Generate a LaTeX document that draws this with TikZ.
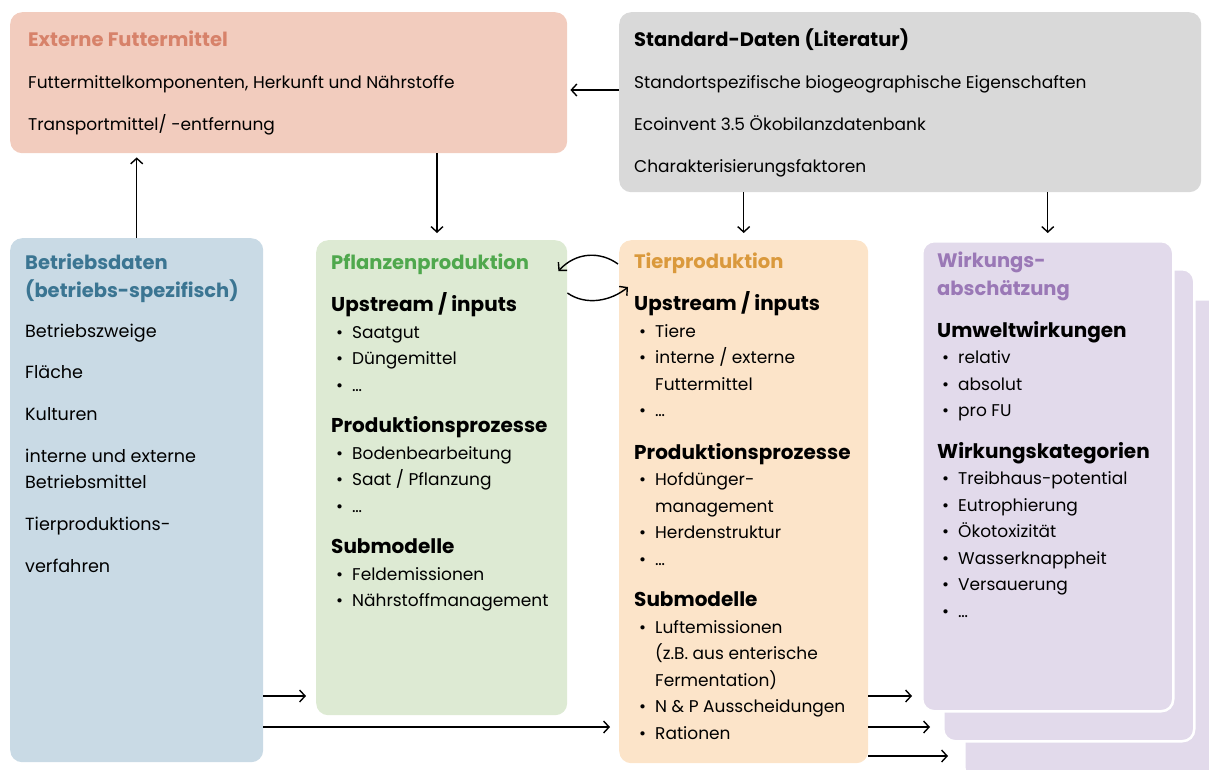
\documentclass[tikz,border=0pt]{standalone}
\usepackage{fontspec}
\setmainfont{Poppins}
\usetikzlibrary{arrows.meta,positioning}
\definecolor{salmonbg}{HTML}{F2CCBE}
\definecolor{salmontxt}{HTML}{D7826A}
\definecolor{greybg}{HTML}{D9D9D9}
\definecolor{bluebg}{HTML}{C9DAE5}
\definecolor{bluetxt}{HTML}{3B7592}
\definecolor{greenbg}{HTML}{DDEAD3}
\definecolor{greentxt}{HTML}{4FA84D}
\definecolor{peachbg}{HTML}{FCE4C9}
\definecolor{peachtxt}{HTML}{DA993C}
\definecolor{lilacbg}{HTML}{E2DAEB}
\definecolor{lilactxt}{HTML}{9A78B6}

% bullet items with hanging indent
\newcommand{\itm}[1]{\makebox[21pt][l]{\hspace{5pt}\textbullet}#1}
\newcommand{\cnt}{\hspace*{21pt}}
\newcommand{\hdr}[1]{{\fontsize{20}{26}\selectfont\bfseries #1}}
\newcommand{\ttl}[2]{{\fontsize{19.5}{26}\selectfont\bfseries\color{#1}#2}}

\begin{document}
\begin{tikzpicture}[x=1pt,y=-1pt,
  box/.style={rounded corners=12pt, inner sep=0pt, anchor=north west},
  card/.style={box, fill=lilacbg, draw=white, line width=2.5pt},
  txt/.style={anchor=base west, align=left, inner sep=0pt},
  arr/.style={-{Straight Barb[length=5.5pt,width=12pt]}, line width=1.4pt, shorten >=4pt}]
\clip (0,0) rectangle (1209,769);

% boxes
\node[box, fill=salmonbg, minimum width=557pt, minimum height=141pt] (extern) at (10,12) {};
\node[box, fill=greybg, minimum width=582pt, minimum height=180pt] (standard) at (619,12) {};
\node[box, fill=bluebg, minimum width=253pt, minimum height=524pt] (betrieb) at (10,238) {};
\node[box, fill=greenbg, minimum width=251pt, minimum height=475pt] (pflanze) at (316,240) {};
\node[box, fill=peachbg, minimum width=249pt, minimum height=523pt] (tier) at (619,240) {};
\node[card, minimum width=262pt, minimum height=480pt] (wirkC) at (963,298) {};
\node[card, minimum width=251pt, minimum height=472pt] (wirkB) at (942,268) {};
\node[card, minimum width=251pt, minimum height=470pt] (wirk) at (921,240) {};

% texts (anchored at the baseline of their last line)
\node[txt, font=\fontsize{17}{42}\selectfont] (externtxt) at (28,130)
  {\ttl{salmontxt}{Externe Futtermittel}\\
   Futtermittelkomponenten, Herkunft und Nährstoffe\\
   Transportmittel/ -entfernung};
\node[txt, font=\fontsize{17}{42}\selectfont] (standardtxt) at (634,172)
  {\ttl{black}{Standard-Daten (Literatur)}\\
   Standortspezifische biogeographische Eigenschaften\\
   Ecoinvent 3.5 Ökobilanzdatenbank\\
   Charakterisierungsfaktoren};
\node[txt, font=\fontsize{17.6}{26}\selectfont] (betriebtxt) at (25,572)
  {\ttl{bluetxt}{Betriebsdaten}\\[2pt]
   \ttl{bluetxt}{(betriebs-spezifisch)}\\[14pt]
   Betriebszweige\\[15pt]
   Fläche\\[16pt]
   Kulturen\\[16pt]
   interne und externe\\
   Betriebsmittel\\[16pt]
   Tierproduktions-\\[16pt]
   verfahren};
\node[txt, font=\fontsize{17}{26.5}\selectfont] (pflanzetxt) at (331,606.5)
  {\ttl{greentxt}{Pflanzenproduktion}\\[16pt]
   \hdr{Upstream / inputs}\\
   \itm{Saatgut}\\
   \itm{Düngemittel}\\
   \itm{\ldots}\\[15pt]
   \hdr{Produktionsprozesse}\\
   \itm{Bodenbearbeitung}\\
   \itm{Saat / Pflanzung}\\
   \itm{\ldots}\\[15pt]
   \hdr{Submodelle}\\
   \itm{Feldemissionen}\\
   \itm{Nährstoffmanagement}};
\node[txt, font=\fontsize{17}{26.5}\selectfont] (tiertxt) at (634,739)
  {\ttl{peachtxt}{Tierproduktion}\\[16pt]
   \hdr{Upstream / inputs}\\
   \itm{Tiere}\\
   \itm{interne / externe}\\
   \cnt Futtermittel\\
   \itm{\ldots}\\[16pt]
   \hdr{Produktionsprozesse}\\
   \itm{Hofdünger-}\\
   \cnt management\\
   \itm{Herdenstruktur}\\
   \itm{\ldots}\\[15pt]
   \hdr{Submodelle}\\
   \itm{Luftemissionen}\\
   \cnt (z.B. aus enterische\\
   \cnt Fermentation)\\
   \itm{N \& P Ausscheidungen}\\
   \itm{Rationen}};
\node[txt, font=\fontsize{17}{26.5}\selectfont] (wirktxt) at (937,617)
  {\ttl{lilactxt}{Wirkungs-}\\[2pt]
   \ttl{lilactxt}{abschätzung}\\[15pt]
   \hdr{Umweltwirkungen}\\
   \itm{relativ}\\
   \itm{absolut}\\
   \itm{pro FU}\\[15pt]
   \hdr{Wirkungskategorien}\\
   \itm{Treibhaus-potential}\\
   \itm{Eutrophierung}\\
   \itm{Ökotoxizität}\\
   \itm{Wasserknappheit}\\
   \itm{Versauerung}\\
   \itm{\ldots}};

% connectors
\draw[arr, shorten >=3pt] (standard.west |- 0,90) -- (extern.east |- 0,90);
\draw[arr] (betrieb.north) -- (extern.south -| betrieb.north);
\draw[arr, shorten >=7pt] (extern.south -| 437,0) -- (pflanze.north -| 437,0);
\draw[arr, shorten >=7pt] (standard.south -| tier.north) -- (tier.north);
\draw[arr, shorten >=7pt] (standard.south -| wirk.north) -- (wirk.north);
\draw[arr, shorten >=0pt] ([xshift=-1pt,yshift=-24pt]tier.north west)
  .. controls (600,251) and (576,252) .. ([xshift=-9pt,yshift=-31pt]pflanze.north east);
\draw[arr, shorten >=0pt] ([yshift=-53pt]pflanze.north east)
  .. controls (586,306) and (611,301) .. ([xshift=9pt,yshift=-47pt]tier.north west);
\draw[arr, shorten >=10pt] (betrieb.east |- 0,696) -- (pflanze.west |- 0,696);
\draw[arr, shorten >=9pt] (betrieb.east |- 0,727) -- (tier.west |- 0,727);
\draw[arr, shorten >=9pt] (tier.east |- 0,696) -- (wirk.west |- 0,696);
\draw[arr, shorten >=12pt] (tier.east |- 0,727) -- (wirkB.west |- 0,727);
\draw[arr, shorten >=15pt] (tier.east |- 0,756) -- (wirkC.west |- 0,756);
\end{tikzpicture}
\end{document}
